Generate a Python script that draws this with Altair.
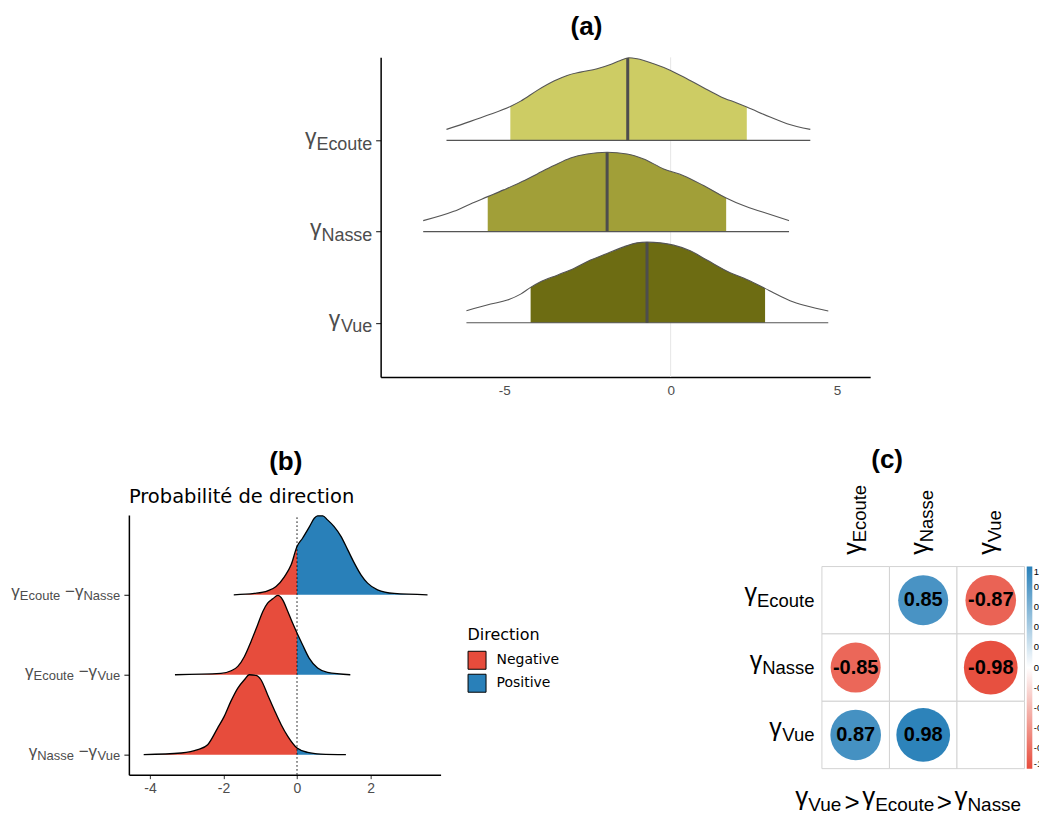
import altair as alt
import pandas as pd
import numpy as np

# ---------------- Panel (a): posterior densities ----------------
a_names = ["Vue", "Nasse", "Ecoute"]            # bottom -> top rows
a_fill = ["#6D6C12", "#A19F38", "#CDCC64"]
vue_x = [-6.14, -5.41, -4.91, -4.51, -4.21, -3.91, -3.41, -2.91, -2.41, -1.91, -1.41, -1.01,
         -0.71, -0.31, 0.09, 0.59, 1.09, 1.79, 2.29, 2.84, 3.09, 3.59, 4.10, 4.74]
vue_h = [0.131, 0.205, 0.249, 0.314, 0.388, 0.449, 0.522, 0.596, 0.687, 0.760, 0.832, 0.876,
         0.884, 0.876, 0.851, 0.789, 0.687, 0.548, 0.475, 0.377, 0.329, 0.241, 0.183, 0.128]
nasse_x = [-7.44, -6.52, -6.02, -5.50, -5.02, -4.51, -4.01, -3.51, -3.01, -2.51, -1.91, -1.31,
           -0.81, -0.21, 0.39, 0.99, 1.67, 2.19, 2.79, 3.56]
nasse_h = [0.120, 0.222, 0.303, 0.383, 0.457, 0.540, 0.632, 0.723, 0.807, 0.851, 0.869, 0.851,
           0.796, 0.687, 0.613, 0.504, 0.369, 0.285, 0.211, 0.120]
ecoute_x = [-6.74, -6.02, -5.51, -4.82, -4.51, -4.01, -3.51, -3.11, -2.71, -2.21, -1.81, -1.51,
            -1.26, -1.01, -0.51, 0.00, 0.49, 0.99, 1.49, 1.99, 2.29, 2.99, 3.50, 4.20]
ecoute_h = [0.120, 0.208, 0.274, 0.372, 0.430, 0.548, 0.650, 0.712, 0.748, 0.785, 0.832, 0.876,
            0.906, 0.895, 0.840, 0.767, 0.676, 0.577, 0.482, 0.409, 0.365, 0.255, 0.183, 0.120]
a_lo = [-4.21, -5.50, -4.82]
a_hi = [2.84, 1.67, 2.29]
a_med = [-0.71, -1.91, -1.29]
a_ticks = [-5, 0, 5]

# ---------------- Panel (b): probability of direction ----------------
b_left = ["Nasse", "Ecoute", "Ecoute"]           # bottom -> top rows
b_right = ["Vue", "Vue", "Nasse"]
nv_x = [-4.17, -3.15, -2.70, -2.43, -2.16, -1.98, -1.80, -1.61, -1.43, -1.30, -1.11, -0.98,
        -0.80, -0.62, -0.43, -0.25, 0.0, 0.29, 0.65, 1.33]
nv_h = [0.0, 0.021, 0.0625, 0.125, 0.333, 0.479, 0.667, 0.833, 0.9375, 1.0, 0.992, 0.9375,
        0.75, 0.5625, 0.375, 0.229, 0.083, 0.029, 0.008, 0.0]
ev_x = [-3.32, -2.07, -1.79, -1.61, -1.43, -1.25, -1.07, -0.93, -0.80, -0.66, -0.52, -0.39,
        -0.25, -0.12, 0.0, 0.15, 0.33, 0.56, 0.83, 1.45]
ev_h = [0.0, 0.017, 0.05, 0.104, 0.229, 0.417, 0.625, 0.792, 0.896, 0.95, 0.992, 0.9375,
        0.792, 0.646, 0.521, 0.375, 0.208, 0.083, 0.029, 0.0]
en_x = [-1.72, -1.16, -0.80, -0.57, -0.34, -0.16, 0.0, 0.15, 0.34, 0.47, 0.56, 0.70, 0.83,
        1.01, 1.20, 1.38, 1.56, 1.74, 1.92, 2.19, 2.64, 3.55]
en_h = [0.0, 0.017, 0.05, 0.104, 0.229, 0.375, 0.604, 0.708, 0.854, 0.958, 0.988, 0.988, 0.938,
        0.854, 0.729, 0.5625, 0.396, 0.25, 0.146, 0.0625, 0.017, 0.0]
directions = ["Negative", "Positive"]
dir_colors = ["#E74C3C", "#2980B9"]
b_ticks = [-4, -2, 0, 2]

# ---------------- Panel (c): correlation matrix ----------------
c_vars = ["Ecoute", "Nasse", "Vue"]
c_row = ["Ecoute", "Ecoute", "Nasse", "Nasse", "Vue", "Vue"]
c_col = ["Nasse", "Vue", "Ecoute", "Vue", "Ecoute", "Nasse"]
c_r = [0.85, -0.87, -0.85, -0.98, 0.87, 0.98]
c_legend_values = [-1, -0.8, -0.6, -0.4, -0.2, 0, 0.2, 0.4, 0.6, 0.8, 1]
c_order = ["Vue", "Ecoute", "Nasse"]

# ---------------- helpers ----------------
FONT = "Liberation Sans"
GREY = "#4D4D4D"
ADV = {' ': 278, '−': 584, '>': 584, 'γ': 500, 'E': 667, 'c': 500, 'o': 556, 'u': 556,
       't': 278, 'e': 556, 'N': 722, 'a': 556, 's': 500, 'V': 667}


def tw(s, size):
    return sum(ADV.get(ch, 556) for ch in s) * size / 1000.0


def txt(text, size, x, y, align="left", dx=0, dy=0, angle=0, color=GREY, font=FONT,
        weight="normal"):
    kw = dict(align=align, baseline="alphabetic", fontSize=size, font=font, color=color,
              fontWeight=weight)
    if dx:
        kw["dx"] = dx
    if dy:
        kw["dy"] = dy
    if angle:
        kw["angle"] = angle
    return alt.Chart(pd.DataFrame({"t": [text]})).mark_text(**kw).encode(
        text="t:N", x=x, y=y)


# ================= Panel (a) =================
xA = alt.Scale(domain=[-8.72, 6.0], range=[252, 742], nice=False, zero=False)
yA_dom = [-0.595, 2.910]
yA = alt.Scale(domain=yA_dom, nice=False, zero=False)
axA_x = alt.Axis(values=a_ticks, labelExpr="'' + datum.value", ticks=False, grid=False,
                 domainColor="black", domainWidth=1.5, labelColor=GREY, labelFontSize=13.5,
                 labelFont=FONT, labelPadding=6, title=None)
axA_y = alt.Axis(values=[0, 1, 2], labels=False, ticks=True, tickSize=5, tickColor="#333333",
                 tickWidth=1.2, grid=False, domainColor="black", domainWidth=1.5,
                 offset=-252, title=None)

rowsA, fillA, medA, baseA = [], [], [], []
for i, (xs, hs) in enumerate([(vue_x, vue_h), (nasse_x, nasse_h), (ecoute_x, ecoute_h)]):
    for xv, hv in zip(xs, hs):
        rowsA.append(dict(name=a_names[i], x=xv, y=i + hv, base=i))
        if a_lo[i] - 1e-9 <= xv <= a_hi[i] + 1e-9:
            fillA.append(dict(name=a_names[i], x=xv, y=i + hv, base=i))
    medA.append(dict(name=a_names[i], x=a_med[i], y=i + float(np.interp(a_med[i], xs, hs)),
                     base=i))
    baseA.append(dict(name=a_names[i], x=min(xs), x2=max(xs), base=i))
dfA, dfA_fill = pd.DataFrame(rowsA), pd.DataFrame(fillA)
dfA_med, dfA_base = pd.DataFrame(medA), pd.DataFrame(baseA)

XA = alt.X("x:Q", scale=xA, axis=axA_x)
YA = alt.Y("y:Q", scale=yA, axis=axA_y, stack=False)

a_layers = [
    alt.Chart(pd.DataFrame({"x": [0.0]})).mark_rule(color="#E6E6E6", strokeWidth=1).encode(
        x=XA, y=alt.datum(yA_dom[0]), y2=alt.datum(yA_dom[1])),
    alt.Chart(dfA_fill).mark_area(interpolate="monotone").encode(
        x=XA, y=YA, y2="base:Q",
        color=alt.Color("name:N", scale=alt.Scale(domain=a_names, range=a_fill), legend=None)),
    alt.Chart(dfA).mark_line(interpolate="monotone", color="#555555", strokeWidth=1.1).encode(
        x=XA, y=YA, detail="name:N"),
    alt.Chart(dfA_base).mark_rule(color="#555555", strokeWidth=1.2).encode(
        x=XA, x2="x2:Q", y=alt.Y("base:Q", scale=yA, axis=axA_y)),
    alt.Chart(dfA_med).mark_rule(color="#4D4D4D", strokeWidth=3).encode(
        x=XA, y=alt.Y("base:Q", scale=yA, axis=axA_y), y2="y:Q"),
]
for i, n in enumerate(a_names):
    xe = 243.7
    a_layers.append(txt(n, 18, alt.value(xe), alt.datum(i), align="right", dy=9.3))
    a_layers.append(txt("γ", 23, alt.value(xe - tw(n, 18)), alt.datum(i), align="right", dy=3.7))
a_layers.append(txt("(a)", 26, alt.value(458), alt.value(-22), align="center", color="black",
                    weight="bold"))
chartA = alt.layer(*a_layers).properties(width=312, height=320)

# ================= Panel (b) =================
xB = alt.Scale(domain=[-4.573, 3.905], nice=False, zero=False)
yB_dom = [-0.25, 3.0]
yB = alt.Scale(domain=yB_dom, nice=False, zero=False)
axB_x = alt.Axis(values=b_ticks, labelExpr="'' + datum.value", ticks=True, tickSize=4,
                 tickColor="#333333", grid=False, domainColor="black", domainWidth=1.5,
                 labelColor=GREY, labelFontSize=14, labelFont=FONT, labelPadding=3, title=None)
axB_y = alt.Axis(values=[0, 1, 2], labels=False, ticks=True, tickSize=5, tickColor="#333333",
                 tickWidth=1.2, grid=False, domainColor="black", domainWidth=1.5, title=None)

rowsB, areaB = [], []
for i, (xs, hs) in enumerate([(nv_x, nv_h), (ev_x, ev_h), (en_x, en_h)]):
    name = b_left[i] + "-" + b_right[i]
    for xv, hv in zip(xs, hs):
        rowsB.append(dict(name=name, x=xv, y=i + hv, base=i))
        if xv <= 0:
            areaB.append(dict(name=name, x=xv, y=i + hv, base=i, Direction="Negative"))
        if xv >= 0:
            areaB.append(dict(name=name, x=xv, y=i + hv, base=i, Direction="Positive"))
dfB, dfB_area = pd.DataFrame(rowsB), pd.DataFrame(areaB)

XB = alt.X("x:Q", scale=xB, axis=axB_x)
YB = alt.Y("y:Q", scale=yB, axis=axB_y, stack=False)
legB = alt.Legend(orient="none", legendX=339, legendY=112, title="Direction",
                  titleFont="DejaVu Sans", titleFontSize=16, titleFontWeight="normal",
                  titleColor="black", titlePadding=8, labelFont="DejaVu Sans", labelFontSize=14,
                  labelColor="black", labelOffset=10, symbolType="square", symbolSize=324,
                  symbolStrokeColor="black", symbolStrokeWidth=1, symbolOpacity=1, rowPadding=0)

b_layers = [
    alt.Chart(dfB_area).mark_area(interpolate="monotone", opacity=1).encode(
        x=XB, y=YB, y2="base:Q", detail="name:N",
        color=alt.Color("Direction:N", scale=alt.Scale(domain=directions, range=dir_colors),
                        legend=legB)),
    alt.Chart(dfB).mark_line(interpolate="monotone", color="black", strokeWidth=1.3).encode(
        x=XB, y=YB, detail="name:N"),
    alt.Chart(pd.DataFrame({"x": [0.0]})).mark_rule(color="black", strokeWidth=1,
                                                    strokeDash=[1.5, 2.5]).encode(
        x=XB, y=alt.datum(yB_dom[0]), y2=alt.datum(yB_dom[1])),
]
for i in range(3):
    cur = -8.7
    pieces = [(b_right[i], 13, 5), ("γ", 17, 2.4), (" −", 17, 2.4), (b_left[i], 13, 5),
              ("γ", 17, 2.4)]
    for t, s, d in pieces:
        b_layers.append(txt(t, s, alt.value(cur), alt.datum(i), align="right", dy=d))
        cur -= tw(t, s)
b_layers.append(txt("Probabilité de direction", 19.5, alt.value(0), alt.value(-12.3),
                    color="black", font="DejaVu Sans"))
b_layers.append(txt("(b)", 26, alt.value(157), alt.value(-45), align="center", color="black",
                    weight="bold"))
chartB = alt.layer(*b_layers).properties(width=312, height=260)

# ================= Panel (c) =================
cells = pd.DataFrame([dict(row=r, col=c) for r in c_vars for c in c_vars])
dfC = pd.DataFrame(dict(row=c_row, col=c_col, r=c_r))
dfC["absr"] = dfC["r"].abs()
dfC["lab"] = [f"{v:.2f}" for v in c_r]

xC = alt.Scale(domain=c_vars, paddingInner=0, paddingOuter=0)
yC = alt.Scale(domain=c_vars, range=[51.7, 254], paddingInner=0, paddingOuter=0)
XC = alt.X("col:N", scale=xC, axis=None)
YC = alt.Y("row:N", scale=yC, axis=None)
legC = alt.Legend(orient="none", legendX=205, legendY=51.7, direction="vertical", title=None,
                  gradientLength=202.3, gradientThickness=5.6, values=c_legend_values,
                  labelExpr="'' + datum.value", labelFontSize=9.5, labelFont=FONT,
                  labelColor="black", labelOffset=1.5, labelOverlap=False)

c_layers = [
    alt.Chart(cells).mark_rect(fill="white", stroke="#D3D3D3", strokeWidth=1).encode(x=XC, y=YC),
    alt.Chart(dfC).mark_circle(opacity=1).encode(
        x=XC, y=YC,
        size=alt.Size("absr:Q", scale=alt.Scale(domain=[0, 1], range=[0, 2951]), legend=None),
        color=alt.Color("r:Q", scale=alt.Scale(domain=[-1, 0, 1],
                                               range=["#E74C3C", "#FFFFFF", "#2980B9"],
                                               interpolate="rgb"), legend=legC)),
    alt.Chart(dfC).mark_text(font=FONT, fontWeight="bold", fontSize=20, color="black",
                             baseline="middle").encode(x=XC, y=YC, text="lab:N"),
]
for n in c_vars:
    xe = -7.4
    c_layers.append(txt(n, 18.5, alt.value(xe), alt.datum(n), align="right", dy=6.4,
                        color="black"))
    c_layers.append(txt("γ", 25, alt.value(xe - tw(n, 18.5)), alt.datum(n), align="right",
                        dy=1.0, color="black"))
    c_layers.append(txt("γ", 25, alt.datum(n), alt.value(40), angle=270, dy=5, color="black"))
    c_layers.append(txt(n, 18.5, alt.datum(n), alt.value(40 - tw("γ", 25)), angle=270, dy=10.2,
                        color="black"))
# bottom ordering text (kept inside the 828 px window)
base_sub = 296.0
pos = -26.7
for k, n in enumerate(c_order):
    if k > 0:
        pos += 2.5
        c_layers.append(txt(">", 26, alt.value(pos), alt.value(base_sub), color="black"))
        pos += tw(">", 26) + 2.5
    c_layers.append(txt("γ", 26, alt.value(pos), alt.value(base_sub - 5.3), color="black"))
    pos += tw("γ", 26)
    c_layers.append(txt(n, 19, alt.value(pos), alt.value(base_sub), color="black"))
    pos += tw(n, 19)
c_layers.append(txt("(c)", 26, alt.value(65.3), alt.value(-46.5), align="center",
                    color="black", weight="bold"))
chartC = alt.layer(*c_layers).properties(width=202.8, height=254)

spacer = alt.Chart(pd.DataFrame({"v": [0]})).mark_point(opacity=0).encode(
    x=alt.value(0), y=alt.value(0)).properties(width=1, height=1)

chart = alt.concat(chartA, spacer, chartB, chartC, columns=2, bounds="flush",
                   spacing=alt.RowColnumber(row=138, column=381.7)).properties(
    padding={"left": 3, "top": 6, "right": -12, "bottom": 0}
).configure_view(strokeWidth=0)

chart.save("out.html", embed_options={"renderer": "svg", "actions": False})
